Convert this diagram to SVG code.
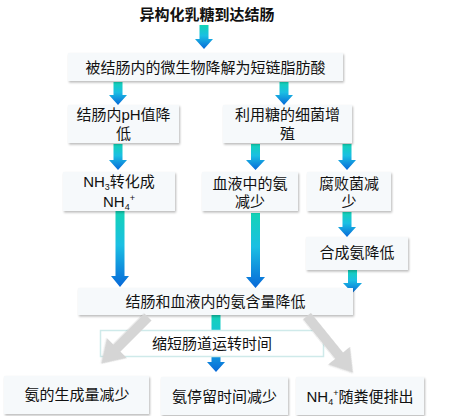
<svg xmlns="http://www.w3.org/2000/svg" width="451" height="416" viewBox="0 0 451 416">
<defs>
<linearGradient id="g" x1="0" y1="0" x2="0" y2="1">
<stop offset="0" stop-color="#13d3b6"/>
<stop offset="0.45" stop-color="#1bbfe3"/>
<stop offset="1" stop-color="#0768d8"/>
</linearGradient>
<filter id="sh" x="-5%" y="-10%" width="115%" height="130%">
<feDropShadow dx="1" dy="1.5" stdDeviation="1" flood-color="#000" flood-opacity="0.28"/>
</filter>
<filter id="gsh" x="-20%" y="-20%" width="140%" height="140%">
<feDropShadow dx="0.5" dy="0.5" stdDeviation="0.6" flood-color="#000" flood-opacity="0.15"/>
</filter>
</defs>
<style>
.box{fill:#f6f9fb;filter:url(#sh);}
.t{font-family:"Liberation Sans","Noto Sans CJK SC",sans-serif;font-size:15px;fill:#111;text-anchor:middle;}
.title{font-family:"Liberation Sans","Noto Sans CJK SC",sans-serif;font-size:15px;font-weight:bold;fill:#111;text-anchor:middle;}
.arr{fill:url(#g);}
.gray{fill:#d5d5d5;filter:url(#gsh);}
</style>
<rect width="451" height="416" fill="#ffffff"/>

<g id="connectors">
<path class="arr" d="M199.5 25 H208.5 V39 H213 L204 49 L195 39 H199.5 Z"/>
<path class="arr" d="M113.5 82 H122.5 V95 H127 L118 105 L109 95 H113.5 Z"/>
<path class="arr" d="M279.5 82 H288.5 V95 H293 L284 105 L275 95 H279.5 Z"/>
<path class="arr" d="M113.5 144 H122.5 V160 H127 L118 170 L109 160 H113.5 Z"/>
<path class="arr" d="M251 144 H260 V160 H265 L255.5 170 L246 160 H251 Z"/>
<path class="arr" d="M342.5 144 H351.5 V160 H356 L347 170 L338 160 H342.5 Z"/>
<path class="arr" d="M115.5 211 H124.5 V276 H129 L120 287 L111 276 H115.5 Z"/>
<path class="arr" d="M251 213 H260 V277 H265 L255.5 288 L246 277 H251 Z"/>
<path class="arr" d="M342.5 212 H351.5 V227 H356 L347 237 L338 227 H342.5 Z"/>
<path class="arr" d="M348 270 H357 V283 H362 L352.5 293 L343 283 H348 Z"/>
<path class="arr" d="M211.5 315 H220.5 V362 H225 L216 372 L207 362 H211.5 Z"/>
</g>

<g id="title"><text class="title" x="207" y="20">异构化乳糖到达结肠</text></g>

<g id="n1"><rect class="box" x="68" y="53" width="275" height="28"/>
<text class="t" x="205.5" y="73">被结肠内的微生物降解为短链脂肪酸</text></g>

<g id="n2"><rect class="box" x="68" y="105" width="111" height="38"/>
<text class="t" x="123.5" y="120">结肠内pH值降</text><text class="t" x="123.5" y="139">低</text></g>

<g id="n3"><rect class="box" x="223" y="105" width="129" height="38"/>
<text class="t" x="287.5" y="120">利用糖的细菌增</text><text class="t" x="287.5" y="139">殖</text></g>

<g id="n4"><rect class="box" x="63" y="172" width="112" height="39"/>
<text class="t" x="119" y="187">NH<tspan font-size="9" dy="3">3</tspan><tspan dy="-3">转化成</tspan></text>
<text class="t" x="119" y="207">NH<tspan font-size="9" dy="3">4</tspan><tspan font-size="9" dy="-9">+</tspan></text></g>

<g id="n5"><rect class="box" x="202" y="172" width="96" height="39"/>
<text class="t" x="250" y="189">血液中的氨</text><text class="t" x="250" y="207">减少</text></g>

<g id="n6"><rect class="box" x="307" y="172" width="84" height="39"/>
<text class="t" x="349" y="189">腐败菌减</text><text class="t" x="349" y="207">少</text></g>

<g id="n7"><rect class="box" x="306" y="237" width="102" height="33"/>
<text class="t" x="357" y="258">合成氨降低</text></g>

<g id="n8"><rect class="box" x="78" y="288" width="275" height="27"/>
<text class="t" x="215.5" y="307">结肠和血液内的氨含量降低</text></g>

<g id="n9"><rect x="100.5" y="330.5" width="223" height="26" fill="#ffffff" stroke="#cfeaea" stroke-width="1.5"/>
<text class="t" x="212" y="349">缩短肠道运转时间</text></g>

<g id="grayarrows">
<path class="gray" d="M0 -5 H44 V-14 L66 0 L44 14 V5 H0 Z" transform="translate(148,317) rotate(135)"/>
<path class="gray" d="M0 -5 H51 V-14 L73 0 L51 14 V5 H0 Z" transform="translate(307,316) rotate(51)"/>
</g>

<g id="n10"><rect class="box" x="4" y="376" width="145" height="38"/>
<text class="t" x="77" y="400">氨的生成量减少</text></g>

<g id="n11"><rect class="box" x="161" y="377" width="127" height="38"/>
<text class="t" x="224.5" y="402">氨停留时间减少</text></g>

<g id="n12"><rect class="box" x="296" y="377" width="128" height="38"/>
<text class="t" x="360" y="402">NH<tspan font-size="9" dy="3">4</tspan><tspan font-size="9" dy="-9">+</tspan><tspan dy="6">随粪便排出</tspan></text></g>
</svg>
